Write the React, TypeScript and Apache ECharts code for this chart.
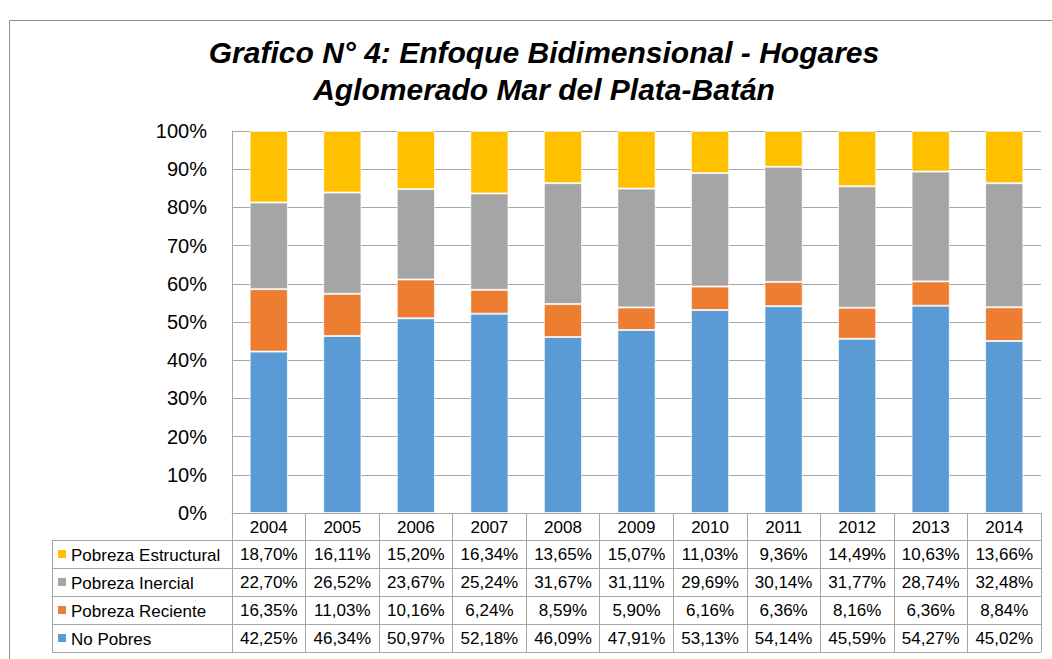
import React, { useEffect, useRef } from "react";
import * as echarts from "echarts";

const years = ["2004", "2005", "2006", "2007", "2008", "2009", "2010", "2011", "2012", "2013", "2014"];
const noPobres = [42.25, 46.34, 50.97, 52.18, 46.09, 47.91, 53.13, 54.14, 45.59, 54.27, 45.02];
const pobrezaReciente = [16.35, 11.03, 10.16, 6.24, 8.59, 5.9, 6.16, 6.36, 8.16, 6.36, 8.84];
const pobrezaInercial = [22.7, 26.52, 23.67, 25.24, 31.67, 31.11, 29.69, 30.14, 31.77, 28.74, 32.48];
const pobrezaEstructural = [18.7, 16.11, 15.2, 16.34, 13.65, 15.07, 11.03, 9.36, 14.49, 10.63, 13.66];

const seriesNames = ["No Pobres", "Pobreza Reciente", "Pobreza Inercial", "Pobreza Estructural"];
const seriesData = [noPobres, pobrezaReciente, pobrezaInercial, pobrezaEstructural];
const colors = ["#5B9BD5", "#ED7D31", "#A5A5A5", "#FFC000"];

const FONT = "'Liberation Sans', Arial, sans-serif";
const LINE = "#a6a6a6";

const fmt = (v: number) => v.toFixed(2).replace(".", ",") + "%";

export default function App() {
  const ref = useRef<HTMLDivElement>(null);
  useEffect(() => {
    if (!ref.current) return;
    const chart = echarts.init(ref.current, undefined, { renderer: "svg" });

    const gridLeft = 232;
    const gridRight = 1041;
    const gridTop = 131;
    const gridBottom = 513;
    const headerH = 27;
    const rowH = 28;

    // table rows, top to bottom: reverse of stack order
    const tableOrder = [3, 2, 1, 0];

    const xAxes: any[] = [
      {
        type: "category",
        data: years,
        position: "bottom",
        axisLine: { show: true, lineStyle: { color: LINE, width: 1 } },
        axisTick: { show: true, length: headerH, interval: 0, lineStyle: { color: LINE } },
        axisLabel: { color: "#000", fontSize: 17, fontFamily: FONT, margin: 6, interval: 0 },
      },
    ];
    tableOrder.forEach((si, r) => {
      xAxes.push({
        type: "category",
        data: years,
        position: "bottom",
        offset: headerH + rowH * r,
        axisLine: { show: true, lineStyle: { color: LINE, width: 1 } },
        axisTick: { show: true, length: rowH, interval: 0, lineStyle: { color: LINE } },
        axisLabel: {
          color: "#000",
          fontSize: 17,
          fontFamily: FONT,
          margin: 6,
          interval: 0,
          formatter: (_v: string, idx: number) => fmt(seriesData[si][idx]),
        },
      });
    });

    const tableTop = gridBottom + headerH;
    const tableBottom = tableTop + rowH * 4;
    const legLeft = 52;

    const graphics: any[] = [
      {
        type: "rect",
        shape: { x: 9.5, y: 20.5, width: 1100, height: 700 },
        style: { fill: "none", stroke: "#8c8c8c", lineWidth: 1 },
        silent: true,
      },
      {
        type: "line",
        shape: { x1: legLeft, y1: tableBottom + 0.5, x2: gridRight, y2: tableBottom + 0.5 },
        style: { stroke: LINE, lineWidth: 1 },
      },
      {
        type: "line",
        shape: { x1: legLeft + 0.5, y1: tableTop, x2: legLeft + 0.5, y2: tableBottom },
        style: { stroke: LINE, lineWidth: 1 },
      },
    ];
    tableOrder.forEach((si, r) => {
      const y = tableTop + rowH * r;
      graphics.push({
        type: "line",
        shape: { x1: legLeft, y1: y + 0.5, x2: gridLeft, y2: y + 0.5 },
        style: { stroke: LINE, lineWidth: 1 },
      });
      graphics.push({
        type: "rect",
        shape: { x: 58, y: y + rowH / 2 - 4, width: 8, height: 8 },
        style: { fill: colors[si] },
      });
      graphics.push({
        type: "text",
        x: 71,
        y: y + rowH / 2 + 1,
        style: {
          text: seriesNames[si],
          fontSize: 17,
          fontFamily: FONT,
          fill: "#000",
          verticalAlign: "middle",
          align: "left",
        },
      });
    });

    chart.setOption({
      animation: false,
      backgroundColor: "#fff",
      title: {
        text: "Grafico N° 4: Enfoque Bidimensional - Hogares\nAglomerado Mar del Plata-Batán",
        left: 539,
        top: 29,
        textAlign: "center",
        textStyle: {
          fontSize: 30,
          fontWeight: "bold",
          fontStyle: "italic",
          fontFamily: FONT,
          color: "#000",
          lineHeight: 37,
        },
      },
      grid: {
        left: gridLeft,
        right: 1052 - gridRight,
        top: gridTop,
        bottom: 659 - gridBottom,
        containLabel: false,
      },
      xAxis: xAxes,
      yAxis: {
        type: "value",
        min: 0,
        max: 100,
        interval: 10,
        axisLine: { show: true, lineStyle: { color: LINE } },
        axisTick: { show: false },
        splitLine: { show: true, lineStyle: { color: LINE, width: 1 } },
        axisLabel: {
          color: "#000",
          fontSize: 20,
          fontFamily: FONT,
          margin: 25,
          formatter: (v: number) => v + "%",
        },
      },
      series: seriesData.map((d, i) => ({
        name: seriesNames[i],
        type: "bar",
        stack: "total",
        data: d,
        barWidth: "52%",
        itemStyle: { color: colors[i], borderColor: "rgba(255,255,255,0.7)", borderWidth: 1 },
      })),
      graphic: graphics,
    });
    return () => chart.dispose();
  }, []);
  return (
    <div
      ref={ref}
      style={{ position: "absolute", left: 0, top: 0, width: 1052, height: 659 }}
    />
  );
}
